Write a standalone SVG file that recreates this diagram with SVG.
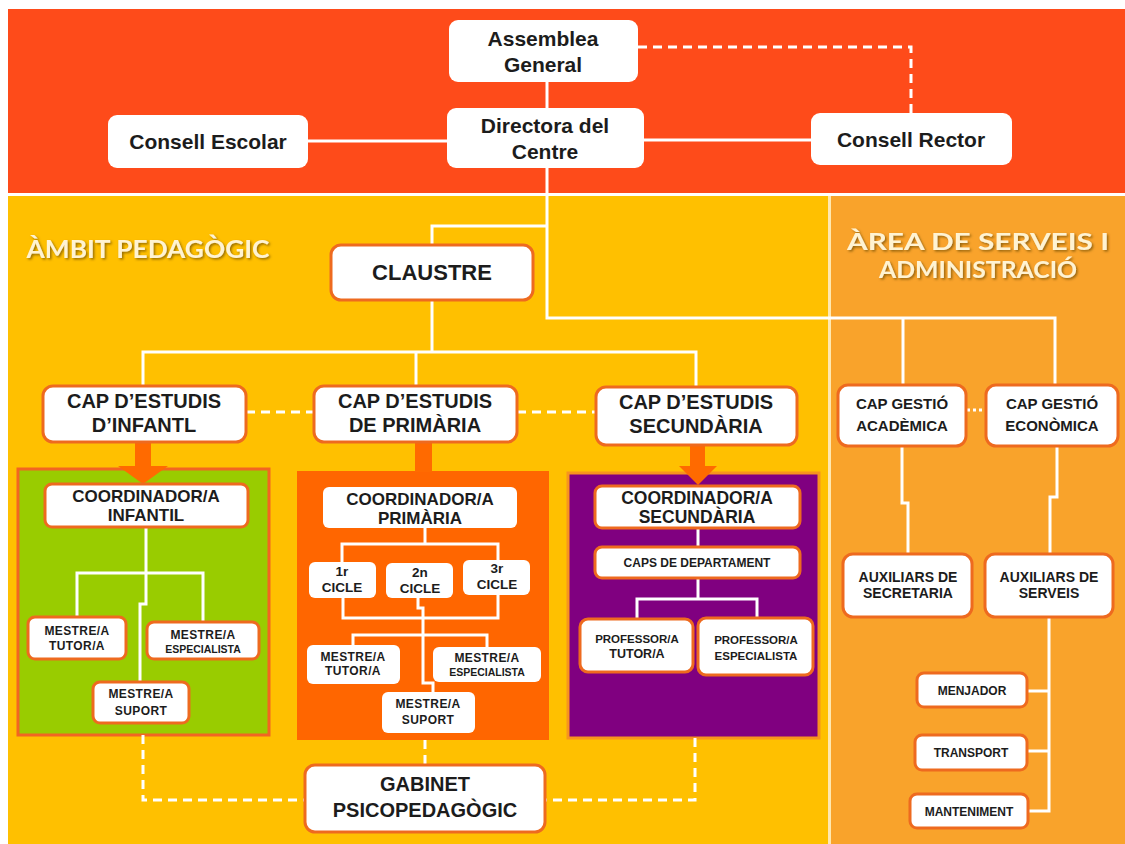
<svg xmlns="http://www.w3.org/2000/svg" width="1125" height="844" viewBox="0 0 1125 844">
  <defs>
    <style>
      .box{fill:#fff;stroke:#EE6A1F;stroke-width:3}
      .wbox{fill:#fff}
      .ln{fill:none;stroke:#fff;stroke-width:3}
      .dash{fill:none;stroke:#fff;stroke-width:3;stroke-dasharray:9 6}
      .dot{fill:none;stroke:#fff;stroke-width:3;stroke-dasharray:3 3}
      .arrow{fill:#FF6A00}
      .t{font-family:"Liberation Sans",Arial,sans-serif;font-weight:bold;fill:#1c1c1c;text-anchor:middle}
      .sm{letter-spacing:0.4px}
      .title{font-family:Lato,"Open Sans",sans-serif;font-weight:bold;fill:#FFF3D2;text-anchor:middle;filter:url(#sh)}
    </style>
    <filter id="sh" x="-10%" y="-30%" width="120%" height="160%">
      <feDropShadow dx="1.5" dy="1.5" stdDeviation="0.8" flood-color="#6b4a00" flood-opacity="0.7"/>
    </filter>
  </defs>

  <!-- background bands -->
  <rect x="0" y="0" width="1125" height="844" fill="#fff"/>
  <rect x="8" y="9" width="1117" height="184" fill="#FE4B1A"/>
  <rect x="8" y="196" width="820" height="648" fill="#FFC000"/>
  <rect x="828" y="196" width="3" height="648" fill="#FFE8B0"/>
  <rect x="831" y="196" width="294" height="648" fill="#F9A32B"/>

  <!-- section panels -->
  <rect x="18" y="469" width="251" height="266" fill="#99CC00" stroke="#F26522" stroke-width="3"/>
  <rect x="297" y="471" width="252" height="269" fill="#FF6600"/>
  <rect x="568" y="473" width="251" height="265" fill="#800080" stroke="#F7941D" stroke-width="3"/>

  <!-- section titles -->
  <text class="title" x="148" y="258" font-size="24" textLength="243" lengthAdjust="spacingAndGlyphs">ÀMBIT PEDAGÒGIC</text>
  <text class="title" x="978" y="250" font-size="22.5" textLength="262" lengthAdjust="spacingAndGlyphs">ÀREA DE SERVEIS I</text>
  <text class="title" x="978" y="278" font-size="22.5" textLength="198" lengthAdjust="spacingAndGlyphs">ADMINISTRACIÓ</text>

  <!-- connectors -->
  <g id="connectors">
    <path class="ln" d="M547 82V108"/>
    <path class="ln" d="M308 141H447"/>
    <path class="ln" d="M644 140H811"/>
    <path class="dash" d="M638 47H911V113"/>
    <path class="ln" d="M547 168V318H1055V385"/>
    <path class="ln" d="M903 318V385"/>
    <path class="ln" d="M547 226H432V245"/>
    <path class="ln" d="M432 300V352"/>
    <path class="ln" d="M143 386V352H696V387"/>
    <path class="ln" d="M416 352V386"/>
    <path class="dash" d="M246 412H314"/>
    <path class="dash" d="M517 412H596"/>
    <path class="dot" d="M967 410H986"/>
    <!-- infantil -->
    <path class="ln" d="M146 527V604H140V682"/>
    <path class="ln" d="M77 617V573H203V622"/>
    <!-- primaria -->
    <path class="ln" d="M425 528V544"/>
    <path class="ln" d="M342 562V544H498V560"/>
    <path class="ln" d="M343 598V618H498V595"/>
    <path class="ln" d="M418 598V608H423V683H433V692"/>
    <path class="ln" d="M353 645V635H487V647"/>
    <!-- secundaria -->
    <path class="ln" d="M698 528V547"/>
    <path class="ln" d="M698 578V599"/>
    <path class="ln" d="M637 619V599H757V618"/>
    <!-- serveis -->
    <path class="ln" d="M902 446V503H908V554"/>
    <path class="ln" d="M1057 446V497H1050V554"/>
    <path class="ln" d="M1049 617V811H1028"/>
    <path class="ln" d="M1027 691H1049"/>
    <path class="ln" d="M1027 751H1049"/>
    <!-- gabinet -->
    <path class="dash" d="M143 735V800H305"/>
    <path class="dash" d="M425 740V765"/>
    <path class="dash" d="M695 738V800H545"/>
    <!-- thick arrows -->
    <rect class="arrow" x="135" y="442" width="16" height="26"/>
    <polygon class="arrow" points="118,466 168,466 143,484"/>
    <rect class="arrow" x="415" y="442" width="17" height="30"/>
    <rect class="arrow" x="690" y="446" width="15" height="21"/>
    <polygon class="arrow" points="679,466 717,466 698,485"/>
  </g>

  <!-- governing bodies -->
  <g id="assemblea">
    <rect class="wbox" x="449" y="20" width="189" height="62" rx="9"/>
    <text class="t" x="543" y="46" font-size="21">Assemblea</text>
    <text class="t" x="543" y="72" font-size="21">General</text>
  </g>
  <g id="directora">
    <rect class="wbox" x="447" y="108" width="197" height="60" rx="9"/>
    <text class="t" x="545" y="133" font-size="21">Directora del</text>
    <text class="t" x="545" y="159" font-size="21">Centre</text>
  </g>
  <g id="consell-escolar">
    <rect class="wbox" x="108" y="115" width="200" height="53" rx="9"/>
    <text class="t" x="208" y="149" font-size="21">Consell Escolar</text>
  </g>
  <g id="consell-rector">
    <rect class="wbox" x="811" y="113" width="201" height="52" rx="9"/>
    <text class="t" x="911" y="147" font-size="21">Consell Rector</text>
  </g>

  <!-- pedagogical area -->
  <g id="claustre">
    <rect class="box" x="331" y="245" width="202" height="55" rx="10"/>
    <text class="t" x="432" y="280" font-size="22">CLAUSTRE</text>
  </g>
  <g id="cap-infantil">
    <rect class="box" x="43" y="386" width="203" height="56" rx="10"/>
    <text class="t" x="144" y="408" font-size="20">CAP D’ESTUDIS</text>
    <text class="t" x="144" y="432" font-size="20">D’INFANTL</text>
  </g>
  <g id="cap-primaria">
    <rect class="box" x="314" y="386" width="203" height="56" rx="10"/>
    <text class="t" x="415" y="408" font-size="20">CAP D’ESTUDIS</text>
    <text class="t" x="415" y="432" font-size="20">DE PRIMÀRIA</text>
  </g>
  <g id="cap-secundaria">
    <rect class="box" x="596" y="387" width="201" height="58" rx="10"/>
    <text class="t" x="696" y="409" font-size="20">CAP D’ESTUDIS</text>
    <text class="t" x="696" y="433" font-size="20">SECUNDÀRIA</text>
  </g>

  <g id="coord-infantil">
    <rect class="box" x="45" y="484" width="203" height="43" rx="7"/>
    <text class="t" x="146" y="502" font-size="17">COORDINADOR/A</text>
    <text class="t" x="146" y="521" font-size="17">INFANTIL</text>
  </g>
  <g id="inf-tutor">
    <rect class="box" x="28" y="617" width="98" height="42" rx="7"/>
    <text class="t sm" x="77" y="635" font-size="12">MESTRE/A</text>
    <text class="t sm" x="77" y="650" font-size="12">TUTOR/A</text>
  </g>
  <g id="inf-especialista">
    <rect class="box" x="147" y="622" width="112" height="37" rx="7"/>
    <text class="t sm" x="203" y="639" font-size="12">MESTRE/A</text>
    <text class="t" x="203" y="653" font-size="10.5">ESPECIALISTA</text>
  </g>
  <g id="inf-suport">
    <rect class="box" x="93" y="682" width="96" height="41" rx="7"/>
    <text class="t sm" x="141" y="698" font-size="12">MESTRE/A</text>
    <text class="t sm" x="141" y="715" font-size="12">SUPORT</text>
  </g>

  <g id="coord-primaria">
    <rect class="wbox" x="323" y="487" width="194" height="41" rx="6"/>
    <text class="t" x="420" y="505" font-size="17">COORDINADOR/A</text>
    <text class="t" x="420" y="524" font-size="17">PRIMÀRIA</text>
  </g>
  <g id="cicle-1">
    <rect class="wbox" x="309" y="562" width="67" height="36" rx="6"/>
    <text class="t" x="342" y="576" font-size="13.5">1r</text>
    <text class="t" x="342" y="592" font-size="13.5">CICLE</text>
  </g>
  <g id="cicle-2">
    <rect class="wbox" x="386" y="563" width="67" height="35" rx="6"/>
    <text class="t" x="420" y="577" font-size="13.5">2n</text>
    <text class="t" x="420" y="593" font-size="13.5">CICLE</text>
  </g>
  <g id="cicle-3">
    <rect class="wbox" x="463" y="560" width="67" height="35" rx="6"/>
    <text class="t" x="497" y="573" font-size="13.5">3r</text>
    <text class="t" x="497" y="589" font-size="13.5">CICLE</text>
  </g>
  <g id="pri-tutor">
    <rect class="wbox" x="307" y="645" width="93" height="39" rx="6"/>
    <text class="t sm" x="353" y="661" font-size="12">MESTRE/A</text>
    <text class="t sm" x="353" y="675" font-size="12">TUTOR/A</text>
  </g>
  <g id="pri-especialista">
    <rect class="wbox" x="433" y="647" width="108" height="35" rx="6"/>
    <text class="t sm" x="487" y="662" font-size="12">MESTRE/A</text>
    <text class="t" x="487" y="676" font-size="10.5">ESPECIALISTA</text>
  </g>
  <g id="pri-suport">
    <rect class="wbox" x="382" y="692" width="93" height="41" rx="6"/>
    <text class="t sm" x="428" y="708" font-size="12">MESTRE/A</text>
    <text class="t sm" x="428" y="724" font-size="12">SUPORT</text>
  </g>

  <g id="coord-secundaria">
    <rect class="box" x="595" y="486" width="205" height="42" rx="7"/>
    <text class="t" x="697" y="504" font-size="17.5">COORDINADOR/A</text>
    <text class="t" x="697" y="523" font-size="17.5">SECUNDÀRIA</text>
  </g>
  <g id="caps-departament">
    <rect class="box" x="595" y="547" width="205" height="31" rx="7"/>
    <text class="t" x="697" y="567" font-size="12">CAPS DE DEPARTAMENT</text>
  </g>
  <g id="sec-tutor">
    <rect class="box" x="580" y="619" width="113" height="53" rx="8"/>
    <text class="t" x="637" y="643" font-size="11.5">PROFESSOR/A</text>
    <text class="t" x="637" y="658" font-size="12.5">TUTOR/A</text>
  </g>
  <g id="sec-especialista">
    <rect class="box" x="698" y="618" width="115" height="57" rx="8"/>
    <text class="t" x="756" y="644" font-size="11.5">PROFESSOR/A</text>
    <text class="t" x="756" y="660" font-size="11.5">ESPECIALISTA</text>
  </g>

  <g id="gabinet">
    <rect class="box" x="305" y="765" width="240" height="67" rx="10"/>
    <text class="t" x="425" y="791" font-size="20">GABINET</text>
    <text class="t" x="425" y="817" font-size="20">PSICOPEDAGÒGIC</text>
  </g>

  <!-- services and administration -->
  <g id="cap-academica">
    <rect class="box" x="838" y="385" width="128" height="61" rx="10"/>
    <text class="t" x="902" y="409" font-size="15">CAP GESTIÓ</text>
    <text class="t" x="902" y="431" font-size="15">ACADÈMICA</text>
  </g>
  <g id="cap-economica">
    <rect class="box" x="986" y="385" width="132" height="61" rx="10"/>
    <text class="t" x="1052" y="409" font-size="15">CAP GESTIÓ</text>
    <text class="t" x="1052" y="431" font-size="15">ECONÒMICA</text>
  </g>
  <g id="aux-secretaria">
    <rect class="box" x="843" y="554" width="129" height="63" rx="10"/>
    <text class="t" x="908" y="582" font-size="14">AUXILIARS  DE</text>
    <text class="t" x="908" y="598" font-size="14">SECRETARIA</text>
  </g>
  <g id="aux-serveis">
    <rect class="box" x="985" y="554" width="128" height="63" rx="10"/>
    <text class="t" x="1049" y="582" font-size="14">AUXILIARS  DE</text>
    <text class="t" x="1049" y="598" font-size="14">SERVEIS</text>
  </g>
  <g id="menjador">
    <rect class="box" x="917" y="673" width="110" height="34" rx="7"/>
    <text class="t" x="972" y="695" font-size="12">MENJADOR</text>
  </g>
  <g id="transport">
    <rect class="box" x="915" y="735" width="112" height="35" rx="7"/>
    <text class="t" x="971" y="757" font-size="12">TRANSPORT</text>
  </g>
  <g id="manteniment">
    <rect class="box" x="910" y="794" width="118" height="34" rx="7"/>
    <text class="t" x="969" y="816" font-size="12">MANTENIMENT</text>
  </g>
</svg>
